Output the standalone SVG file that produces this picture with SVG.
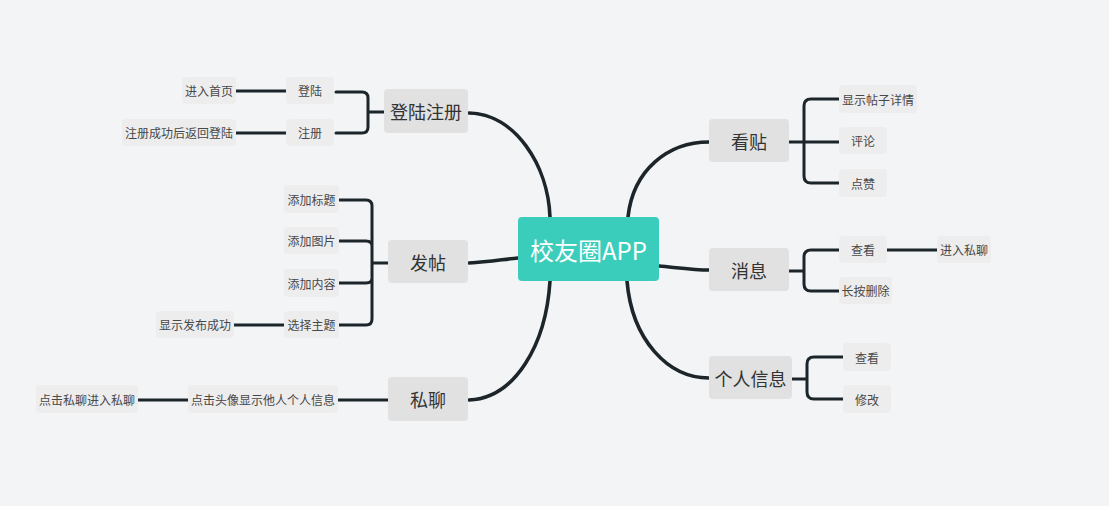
<svg xmlns="http://www.w3.org/2000/svg" width="1109" height="506" viewBox="0 0 1109 506">
<style>
text{font-family:"Noto Sans CJK SC","Liberation Sans",sans-serif;text-anchor:middle;dominant-baseline:central}
.root rect{fill:#3BCDBB}
.root text{fill:#fff;font-size:24px}
.main rect{fill:#E1E1E1}
.main text{fill:#333;font-size:18px}
.sub rect{fill:#EDEDEE}
.sub text{fill:#484848;font-size:12px}
.c path{fill:none;stroke:#1C252A;stroke-width:3;stroke-linecap:round}
.c path.m{stroke-width:3.6}
</style>
<rect width="1109" height="506" fill="#F3F4F6"/>
<g class="c" id="connectors">
<path class="m" d="M469,113 C515,114 548,165 550,217"/>
<path class="m" d="M628,217 C633,170 668,142 709,142"/>
<path class="m" d="M469,263 C490,262 505,259 518,258"/>
<path class="m" d="M659,266 C680,268 695,270 709,270"/>
<path class="m" d="M550,281 C546,345 515,398 469,400"/>
<path class="m" d="M627,281 C632,340 668,378 709,378"/>
<path d="M384,112 H368 M336,92 H362 Q368,92 368,98 V127 Q368,133 362,133 H336"/>
<path d="M236,91 H286 M236,133 H286"/>
<path d="M388,263 H372 M339,200 H366 Q372,200 372,206 V319 Q372,325 366,325 H339 M339,241 H366 Q372,241 372,246 M339,283 H366 Q372,283 372,278"/>
<path d="M234,325 H284"/>
<path d="M138,400 H188 M338,400 H388"/>
<path d="M789,142 H804 M839,99 H811 Q804,99 804,106 V176 Q804,183 811,183 H839 M804,142 H839"/>
<path d="M789,271 H804 M839,250 H811 Q804,250 804,257 V284 Q804,291 811,291 H839"/>
<path d="M887,250 H937"/>
<path d="M792,379 H807 M843,357 H814 Q807,357 807,364 V392 Q807,399 814,399 H843"/>
</g>
<g class="root" id="root"><rect x="518" y="217" width="141" height="64" rx="4"/><text x="588.5" y="249">校友圈APP</text></g>
<g class="main" id="n-login"><rect x="384" y="89" width="84" height="44" rx="4"/><text x="426" y="111">登陆注册</text></g>
<g class="main" id="n-post"><rect x="388" y="240" width="80" height="43" rx="4"/><text x="428" y="261.5">发帖</text></g>
<g class="main" id="n-chat"><rect x="388" y="377" width="80" height="44" rx="4"/><text x="428" y="399">私聊</text></g>
<g class="main" id="n-view"><rect x="709" y="119" width="80" height="43" rx="4"/><text x="749" y="140.5">看贴</text></g>
<g class="main" id="n-msg"><rect x="709" y="248" width="80" height="43" rx="4"/><text x="749" y="269.5">消息</text></g>
<g class="main" id="n-profile"><rect x="709" y="356" width="83" height="43" rx="4"/><text x="750.5" y="377.5">个人信息</text></g>
<g class="sub" id="s-denglu"><rect x="286" y="77" width="48" height="27" rx="4"/><text x="310" y="90.5">登陆</text></g>
<g class="sub" id="s-zhuce"><rect x="286" y="119" width="48" height="27" rx="4"/><text x="310" y="132.5">注册</text></g>
<g class="sub" id="s-home"><rect x="182" y="77" width="54" height="27" rx="4"/><text x="209" y="90.5">进入首页</text></g>
<g class="sub" id="s-back"><rect x="122" y="119" width="114" height="27" rx="4"/><text x="179" y="132.5">注册成功后返回登陆</text></g>
<g class="sub" id="s-title"><rect x="284" y="185" width="55" height="28" rx="4"/><text x="311.5" y="199">添加标题</text></g>
<g class="sub" id="s-img"><rect x="284" y="227" width="55" height="27" rx="4"/><text x="311.5" y="240.5">添加图片</text></g>
<g class="sub" id="s-content"><rect x="284" y="269" width="55" height="28" rx="4"/><text x="311.5" y="283">添加内容</text></g>
<g class="sub" id="s-topic"><rect x="284" y="311" width="55" height="27" rx="4"/><text x="311.5" y="324.5">选择主题</text></g>
<g class="sub" id="s-success"><rect x="156" y="311" width="78" height="27" rx="4"/><text x="195" y="324.5">显示发布成功</text></g>
<g class="sub" id="s-avatar"><rect x="188" y="385" width="150" height="28" rx="4"/><text x="263" y="399">点击头像显示他人个人信息</text></g>
<g class="sub" id="s-privchat"><rect x="36" y="385" width="102" height="28" rx="4"/><text x="87" y="399">点击私聊进入私聊</text></g>
<g class="sub" id="s-detail"><rect x="839" y="85" width="78" height="28" rx="4"/><text x="878" y="99">显示帖子详情</text></g>
<g class="sub" id="s-comment"><rect x="839" y="127" width="48" height="27" rx="4"/><text x="863" y="140.5">评论</text></g>
<g class="sub" id="s-like"><rect x="839" y="169" width="48" height="28" rx="4"/><text x="863" y="183">点赞</text></g>
<g class="sub" id="s-msgview"><rect x="839" y="236" width="48" height="27" rx="4"/><text x="863" y="249.5">查看</text></g>
<g class="sub" id="s-delete"><rect x="839" y="277" width="53" height="27" rx="4"/><text x="865.5" y="290.5">长按删除</text></g>
<g class="sub" id="s-enterchat"><rect x="937" y="236" width="54" height="27" rx="4"/><text x="964" y="249.5">进入私聊</text></g>
<g class="sub" id="s-pview"><rect x="843" y="343" width="48" height="28" rx="4"/><text x="867" y="357">查看</text></g>
<g class="sub" id="s-edit"><rect x="843" y="385" width="48" height="28" rx="4"/><text x="867" y="399">修改</text></g>
</svg>
